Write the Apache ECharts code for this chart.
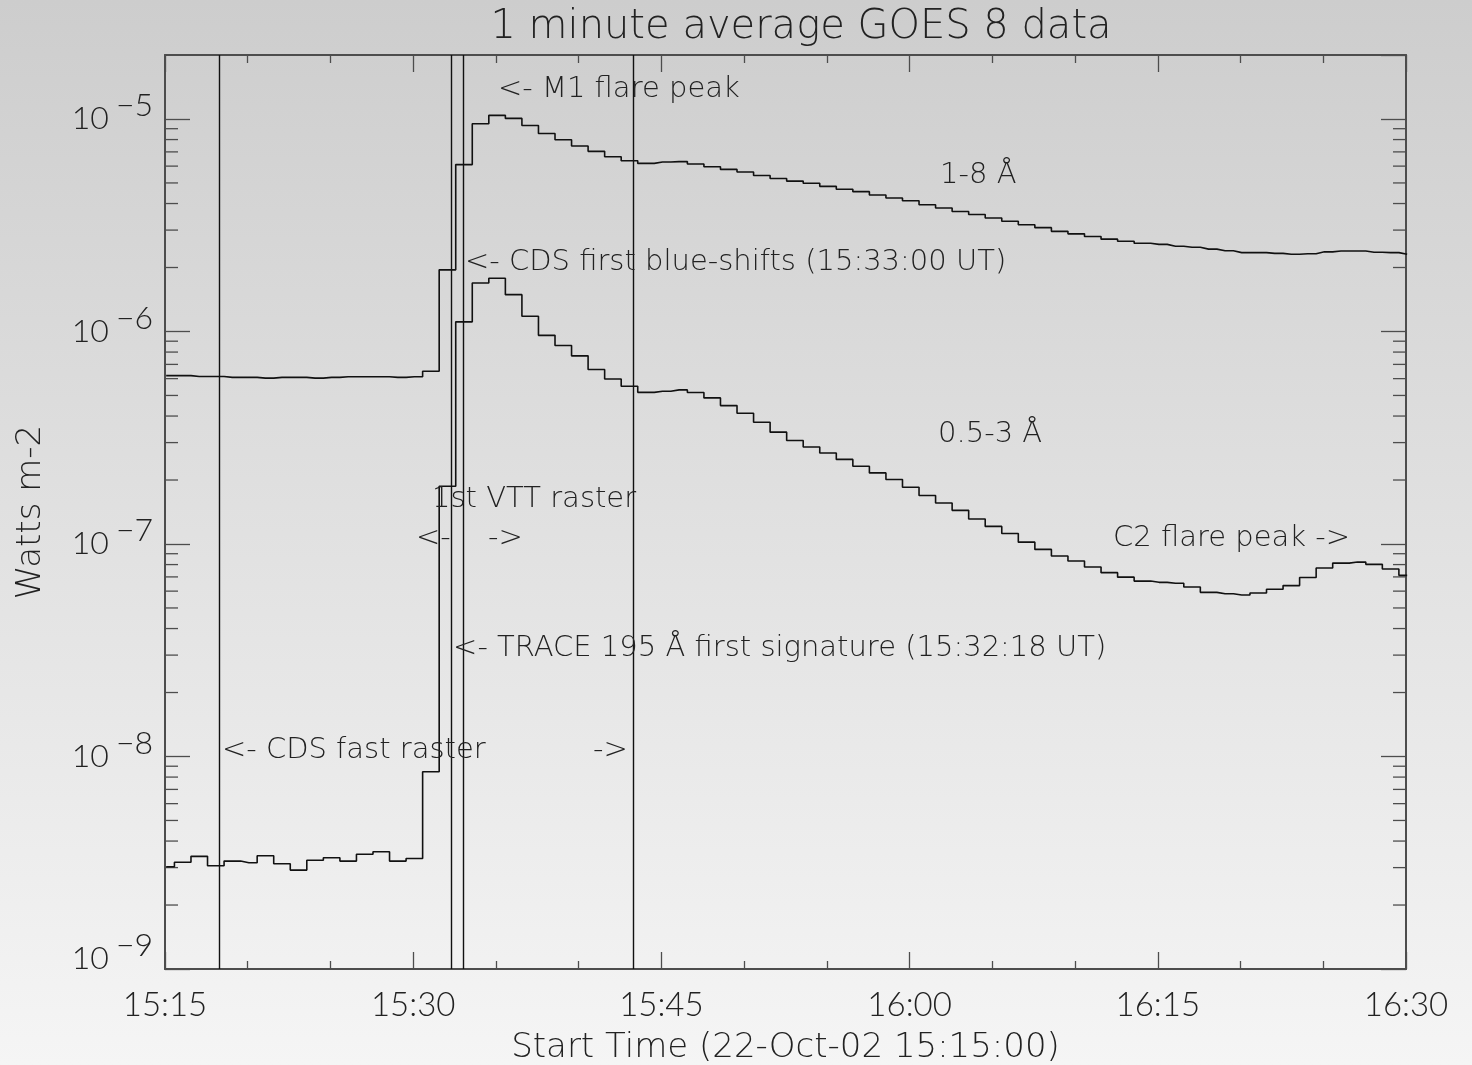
<!DOCTYPE html>
<html><head><meta charset="utf-8">
<script src="https://cdn.jsdelivr.net/npm/echarts@6/dist/echarts.min.js"></script>
<style>html,body{margin:0;padding:0;background:#e0e0e0}#c{width:1472px;height:1065px;}</style>
</head><body><div id="c"></div>
<script>
// 1-minute averages, time in minutes after 15:15:00 (22-Oct-02)
const SAMPLE_OFFSET_MIN = 0.07;
const FLUX_1_8 = [
  6.20e-7, 6.20e-7, 6.14e-7, 6.14e-7, 6.08e-7, 6.08e-7, 6.03e-7, 6.08e-7, 6.08e-7, 6.03e-7,
  6.08e-7, 6.12e-7, 6.12e-7, 6.12e-7, 6.08e-7, 6.12e-7, 6.50e-7, 1.95e-6, 6.10e-6, 9.50e-6,
  1.04e-5, 1.006e-5, 9.31e-6, 8.55e-6, 7.98e-6, 7.46e-6, 7.04e-6, 6.64e-6, 6.36e-6, 6.18e-6,
  6.27e-6, 6.30e-6, 6.14e-6, 5.96e-6, 5.79e-6, 5.63e-6, 5.42e-6, 5.25e-6, 5.10e-6, 4.98e-6,
  4.82e-6, 4.67e-6, 4.55e-6, 4.39e-6, 4.25e-6, 4.12e-6, 3.95e-6, 3.81e-6, 3.67e-6, 3.55e-6,
  3.42e-6, 3.30e-6, 3.18e-6, 3.08e-6, 2.96e-6, 2.88e-6, 2.80e-6, 2.72e-6, 2.66e-6, 2.60e-6,
  2.57e-6, 2.52e-6, 2.49e-6, 2.44e-6, 2.40e-6, 2.35e-6, 2.35e-6, 2.33e-6, 2.31e-6, 2.32e-6,
  2.37e-6, 2.39e-6, 2.39e-6, 2.36e-6, 2.35e-6, 2.31e-6
];
const FLUX_05_3 = [
  3.03e-9, 3.18e-9, 3.39e-9, 3.06e-9, 3.22e-9, 3.16e-9, 3.41e-9, 3.13e-9, 2.92e-9, 3.25e-9,
  3.34e-9, 3.22e-9, 3.47e-9, 3.56e-9, 3.22e-9, 3.31e-9, 8.47e-9, 1.87e-7, 1.11e-6, 1.69e-6,
  1.78e-6, 1.49e-6, 1.18e-6, 9.59e-7, 8.59e-7, 7.68e-7, 6.62e-7, 5.98e-7, 5.52e-7, 5.17e-7,
  5.23e-7, 5.31e-7, 5.16e-7, 4.87e-7, 4.48e-7, 4.12e-7, 3.74e-7, 3.36e-7, 3.07e-7, 2.86e-7,
  2.68e-7, 2.50e-7, 2.32e-7, 2.16e-7, 2.01e-7, 1.85e-7, 1.69e-7, 1.56e-7, 1.44e-7, 1.31e-7,
  1.21e-7, 1.12e-7, 1.02e-7, 9.43e-8, 8.78e-8, 8.31e-8, 7.79e-8, 7.33e-8, 6.98e-8, 6.69e-8,
  6.60e-8, 6.53e-8, 6.27e-8, 5.92e-8, 5.83e-8, 5.75e-8, 5.88e-8, 6.12e-8, 6.37e-8, 6.95e-8,
  7.71e-8, 8.13e-8, 8.22e-8, 8.02e-8, 7.62e-8, 7.12e-8
];
// vertical event lines: 15:18:18, 15:32:18, 15:33:00, 15:43:18
const MARKER_TIMES = [3.3, 17.3, 18.0, 28.3];
const Y_DECADES = [-9, -8, -7, -6, -5];
const Y_MINOR_MULTIPLIERS = [2, 3, 4, 5, 6, 7, 8, 9];
const X_MIN = 0, X_MAX = 75, X_MAJOR = 15;
const Y_MIN = 1e-9, Y_MAX = 2e-5;
const TITLE = '1 minute average GOES 8 data';
const X_NAME = 'Start Time (22-Oct-02 15:15:00)';
const Y_NAME = 'Watts m-2';
// annotation texts anchored in data coordinates [minutes, flux]
const ANNOTATIONS = [
  { text: '<- M1 flare peak', t: 20.12, v: 1.38e-5 },
  { text: '1-8 Å', t: 46.84, v: 5.40e-6 },
  { text: '<- CDS first blue-shifts (15:33:00 UT)', t: 18.13, v: 2.12e-6 },
  { text: '0.5-3 Å', t: 46.72, v: 3.27e-7 },
  { text: '1st VTT raster', t: 16.14, v: 1.62e-7 },
  { text: '<-', t: 15.17, v: 1.06e-7 },
  { text: '->', t: 19.52, v: 1.06e-7 },
  { text: 'C2 flare peak ->', t: 57.29, v: 1.06e-7 },
  { text: '<- TRACE 195 Å first signature (15:32:18 UT)', t: 17.41, v: 3.22e-8 },
  { text: '<- CDS fast raster', t: 3.44, v: 1.07e-8 },
  { text: '->', t: 25.87, v: 1.07e-8 }
];

const TIMES = FLUX_1_8.map((_, i) => i + SAMPLE_OFFSET_MIN);
const minorTicks = [];
Y_DECADES.forEach(d => Y_MINOR_MULTIPLIERS.forEach(m => {
  const v = m * Math.pow(10, d);
  if (v < Y_MAX) minorTicks.push([X_MIN, v]);
}));

const AX = '#4d4d4d', TXT = '#222222';
const LAB_FONT = 'Lato, "Liberation Sans", sans-serif';
const ANN_FONT = '"DejaVu Sans", "Liberation Sans", sans-serif';
const ANN_W = 200, LAB_W = 300;

function fmtTime(v) {
  const tot = 15 * 60 + 15 + Math.round(v);
  const h = Math.floor(tot / 60), m = tot % 60;
  return h + ':' + (m < 10 ? '0' + m : m);
}

const xCommon = {
  type: 'value', min: X_MIN, max: X_MAX, interval: X_MAJOR,
  axisLine: { show: true, onZero: false, lineStyle: { color: AX, width: 2 } },
  axisTick: { show: true, inside: true, length: 17, lineStyle: { color: AX, width: 1.3 } },
  minorTick: { show: true, splitNumber: 3, length: 8, lineStyle: { color: AX, width: 1.3 } },
  splitLine: { show: false }, minorSplitLine: { show: false }
};
const yCommon = {
  type: 'log', logBase: 10, min: Y_MIN, max: Y_MAX,
  axisLine: { show: true, onZero: false, lineStyle: { color: AX, width: 2 } },
  axisTick: { show: true, inside: true, length: 25, lineStyle: { color: AX, width: 1.3 } },
  minorTick: { show: false },
  splitLine: { show: false }
};
const labStyle = { fontFamily: LAB_FONT, fontSize: 32, fontWeight: LAB_W, color: TXT };

const chart = echarts.init(document.getElementById('c'));
chart.setOption({
  animation: false,
  backgroundColor: {
    type: 'linear', x: 0, y: 0, x2: 0, y2: 1,
    colorStops: [{ offset: 0, color: '#cdcdcd' }, { offset: 1, color: '#f5f5f5' }]
  },
  title: {
    text: TITLE, left: 796, top: 3, textAlign: 'center',
    textStyle: { fontFamily: ANN_FONT, fontSize: 40, fontWeight: ANN_W, color: TXT }
  },
  grid: { left: 165, top: 55, width: 1241, height: 914, containLabel: false, outerBoundsMode: 'none' },
  xAxis: [
    Object.assign({}, xCommon, {
      position: 'bottom',
      name: X_NAME, nameLocation: 'middle', nameGap: 62,
      nameTextStyle: { fontFamily: ANN_FONT, fontSize: 34, fontWeight: ANN_W, color: TXT },
      axisLabel: { show: true, margin: 20, formatter: fmtTime,
        fontFamily: LAB_FONT, fontSize: 33, fontWeight: LAB_W, color: TXT, showMinLabel: true, showMaxLabel: true }
    }),
    Object.assign({}, xCommon, { position: 'top', axisLabel: { show: false } })
  ],
  yAxis: [
    Object.assign({}, yCommon, {
      position: 'left',
      name: Y_NAME, nameLocation: 'middle', nameGap: 117, nameRotate: 90,
      nameTextStyle: { fontFamily: ANN_FONT, fontSize: 34, fontWeight: ANN_W, color: TXT },
      axisLabel: {
        show: true, margin: 12, showMaxLabel: false,
        formatter: function (v) {
          const e = Math.log10(v);
          if (Math.abs(e - Math.round(e)) > 1e-6) return '';
          const n = Math.round(e);
          const k = (v <= Y_MIN * 1.0001) ? '0' : '';
          return '{b' + k + '|10}{s' + k + '|\u2212' + Math.abs(n) + '}';
        },
        rich: {
          b: Object.assign({}, labStyle, { padding: [13, 0, 13, 0] }),
          s: Object.assign({}, labStyle, { padding: [0, 0, 26, 7] }),
          b0: Object.assign({}, labStyle, { padding: [13, 0, 33, 0] }),
          s0: Object.assign({}, labStyle, { padding: [0, 0, 46, 7] })
        }
      }
    }),
    Object.assign({}, yCommon, { position: 'right', axisLabel: { show: false } })
  ],
  series: [
    {
      name: '1-8 Å', type: 'line', step: 'middle', showSymbol: false, clip: true,
      data: TIMES.map((t, i) => [t, FLUX_1_8[i]]),
      lineStyle: { color: '#111', width: 1.6 },
      markLine: {
        silent: true, symbol: 'none', label: { show: false },
        lineStyle: { color: '#111', width: 1.4, type: 'solid' },
        data: MARKER_TIMES.map(t => ({ xAxis: t }))
      }
    },
    {
      name: '0.5-3 Å', type: 'line', step: 'middle', showSymbol: false, clip: true,
      data: TIMES.map((t, i) => [t, FLUX_05_3[i]]),
      lineStyle: { color: '#111', width: 1.6 }
    },
    {
      name: 'minor ticks', type: 'custom', silent: true, clip: false,
      data: minorTicks,
      renderItem: function (params, api) {
        const cs = params.coordSys;
        const y = api.coord([X_MIN, api.value(1)])[1];
        const st = { stroke: AX, lineWidth: 1.3 };
        return { type: 'group', children: [
          { type: 'line', shape: { x1: cs.x, y1: y, x2: cs.x + 13, y2: y }, style: st },
          { type: 'line', shape: { x1: cs.x + cs.width - 13, y1: y, x2: cs.x + cs.width, y2: y }, style: st }
        ] };
      }
    },
    {
      name: 'annotations', type: 'custom', silent: true, clip: false, z: 5,
      data: ANNOTATIONS.map(a => [a.t, a.v]),
      renderItem: function (params, api) {
        const p = api.coord([api.value(0), api.value(1)]);
        return {
          type: 'text', x: p[0], y: p[1],
          style: { text: ANNOTATIONS[params.dataIndex].text, fill: TXT,
            font: ANN_W + ' 29px ' + ANN_FONT, align: 'left', verticalAlign: 'middle' }
        };
      }
    }
  ]
});
</script></body></html>
